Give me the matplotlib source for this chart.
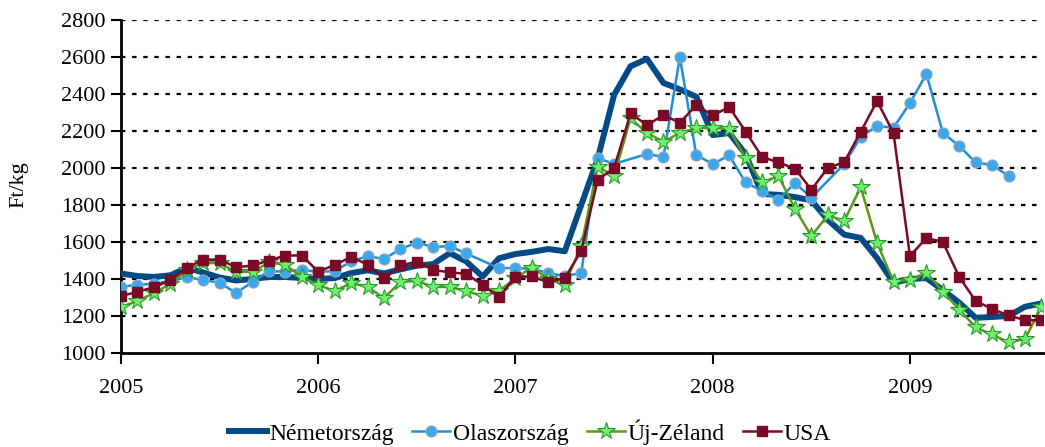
import numpy as np
import matplotlib.pyplot as plt

# havi árak, 2005 jan - 2009 szept (Ft/kg)
nemet = [1430, 1416, 1411, 1420, 1460, 1435, 1408, 1392, 1400, 1411, 1411, 1405,
         1400, 1405, 1432, 1447, 1430, 1452, 1472, 1481, 1540, 1495, 1413, 1512,
         1535, 1547, 1562, 1550, 1800, 2050, 2395, 2550, 2590, 2460, 2425, 2385,
         2178, 2189, 2075, 1860, 1855, 1843, 1825, 1720, 1640, 1622, 1513, 1380,
         1400, 1405, 1340, 1272, 1190, 1195, 1200, 1250, 1268]
olasz = [1356, 1370, 1373, 1389, 1410, 1395, 1380, 1324, 1384, 1443, 1440, 1450,
         1438, 1443, 1495, 1524, 1508, 1562, 1597, 1573, 1578, 1538, np.nan, 1459,
         1459, 1455, 1432, 1416, 1432, 2054, 2022, np.nan, 2076, 2060, 2600, 2070,
         2022, 2068, 1922, 1876, 1827, 1919, 1840, np.nan, 2022, 2167, 2227, 2218,
         2351, 2508, 2190, 2119, 2030, 2016, 1957, np.nan, np.nan]
ujzeland = [1249, 1281, 1324, 1373, 1449, 1486, 1486, 1438, 1438, 1490, 1476, 1411,
            1368, 1335, 1378, 1357, 1297, 1384, 1390, 1357, 1357, 1335, 1308, 1335,
            1405, 1462, 1400, 1368, 1580, 2008, 1957, 2268, 2189, 2143, 2189, 2216,
            2216, 2211, 2055, 1922, 1957, 1781, 1632, 1745, 1714, 1897, 1595, 1385,
            1395, 1435, 1332, 1235, 1138, 1100, 1057, 1076, 1249]
usa = [1308, 1330, 1357, 1392, 1460, 1505, 1505, 1463, 1473, 1500, 1527, 1527,
       1440, 1476, 1519, 1478, 1405, 1473, 1494, 1449, 1436, 1428, 1368, 1303,
       1411, 1414, 1382, 1405, 1552, 1935, 2000, 2295, 2232, 2286, 2245, 2340,
       2284, 2330, 2197, 2060, 2030, 1997, 1883, 2000, 2032, 2195, 2362, 2189,
       1524, 1622, 1600, 1411, 1281, 1238, 1203, 1178, 1176]
years = [2005, 2006, 2007, 2008, 2009]
yticks = list(range(1000, 2801, 200))

plt.rcParams['font.family'] = ['Liberation Serif', 'DejaVu Serif']

x = 2005 + np.arange(len(nemet)) / 12.0

fig = plt.figure(figsize=(10.45, 4.47), dpi=100)
ax = fig.add_axes([0.1158, 0.2103, 0.882, 0.7449])

ax.plot(x, nemet, color='#034a86', lw=4.3, label='Németország', zorder=3,
        solid_joinstyle='round')
m = ~np.isnan(olasz)
ax.plot(x[m], np.array(olasz)[m], color='#1d8fd6', lw=1.8, marker='o', ms=8,
        mfc='#3aa8f0', mec='#9aa6b0', mew=0.8, label='Olaszország', zorder=4)
ax.plot(x, ujzeland, color='#5a9a18', lw=1.8, marker='*', ms=13,
        mfc='#6ef06e', mec='#2a9a2a', mew=0.8, label='Új-Zéland', zorder=5)
ax.plot(x, usa, color='#7a0a26', lw=1.8, marker='s', ms=7,
        mfc='#7a0a26', mec='#7a0a26', label='USA', zorder=6)

ax.set_xlim(2005, 2009.673)
ax.set_ylim(1000, 2800)
ax.set_xticks(years)
ax.set_yticks(yticks)
ax.tick_params(axis='x', direction='out', length=8, width=1.5, pad=11, labelsize=16)
ax.tick_params(axis='y', direction='out', length=7, width=1.5, pad=4, labelsize=16)
for v in yticks[1:]:
    ax.axhline(v, color='black', lw=1.6, ls=(0, (2, 3)), zorder=1)

for s in ['top', 'right']:
    ax.spines[s].set_visible(False)
ax.spines['left'].set_linewidth(2)
ax.spines['bottom'].set_linewidth(2)

ax.set_ylabel('Ft/kg', fontsize=16)
ax.yaxis.set_label_coords(-0.100, 0.505)

fig.legend(loc='center', bbox_to_anchor=(0.507, 0.034), ncol=4, frameon=False,
           fontsize=17, handlelength=1.6, handletextpad=0.1, columnspacing=0.8)

fig.savefig('out.png', dpi=100)
